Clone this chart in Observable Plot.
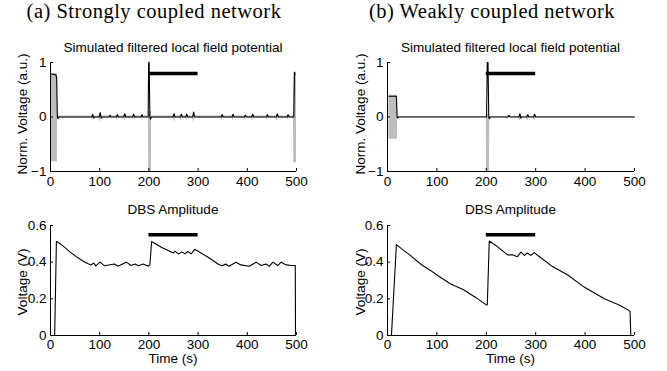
<!DOCTYPE html>
<html><head><meta charset="utf-8">
<script src="https://cdn.jsdelivr.net/npm/d3@7"></script>
<script src="https://cdn.jsdelivr.net/npm/@observablehq/plot@0.6"></script>
<style>
html,body{margin:0;padding:0;background:#fff;}
#fig{position:relative;width:667px;height:371px;overflow:hidden;background:#fff;}
#fig > svg{position:absolute;}
</style></head><body><div id="fig"></div>
<script>
// ---------- data ----------
const timeTicks = [0, 100, 200, 300, 400, 500];
const timeTickLabels = ["0", "100", "200", "300", "400", "500"];
const lfpTicks = [-1, 0, 1];
const lfpTickLabels = ["\u22121", "0", "1"];
const dbsTicks = [0, 0.2, 0.4, 0.6];
const dbsTickLabels = ["0", "0.2", "0.4", "0.6"];
const stimStart = 200, stimEnd = 300;
const stimMarkLfp = 0.8, stimMarkDbs = 0.55;

const panelTitles = ["(a) Strongly coupled network", "(b) Weakly coupled network"];
const lfpTitle = "Simulated filtered local field potential";
const dbsTitle = "DBS Amplitude";
const lfpYLabel = "Norm. Voltage (a.u.)";
const dbsYLabel = "Voltage (V)";
const timeLabel = "Time (s)";

// (a) strongly coupled: filtered LFP (black)
const strongLfpT = [2, 11, 12.5, 14, 15, 17, 84, 86, 88, 90, 99, 101, 103, 105, 119, 121, 123, 134, 136, 138, 149, 151, 153, 167, 169, 171, 184, 186, 188, 198.5, 199.5, 200.5, 202, 203, 205, 249, 251, 253, 264, 266, 268, 275, 277, 279, 289, 291, 293, 347, 349, 351, 369, 371, 373, 394, 396, 398, 409, 411, 413, 439, 441, 443, 459, 461, 463, 481, 483, 485, 494.5, 496, 497];
const strongLfpV = [0.79, 0.77, 0.72, 0.0, -0.03, 0, 0, 0.05, -0.02, 0, 0, 0.08, -0.02, 0, 0, 0.03, 0, 0, 0.04, 0, 0, 0.06, 0, 0, 0.05, 0, 0, 0.04, 0, 0, 1.0, 1.0, 0.0, -0.04, 0, 0, 0.06, 0, 0, 0.05, 0, 0, 0.05, 0, 0, 0.09, 0, 0, 0.04, 0, 0, 0.05, 0, 0, 0.03, 0, 0, 0.05, 0, 0, 0.04, 0, 0, 0.06, 0, 0, 0.04, 0, 0, 0.82, 0.78];
// (a) raw LFP envelope (gray)
const strongRawT = [2, 14, 14.5, 84, 86, 88, 99, 101, 103, 134, 136, 138, 149, 151, 153, 167, 169, 171, 184, 186, 188, 199, 199.5, 205, 205.5, 250, 252, 254, 264, 266, 268, 275, 277, 279, 289, 291, 293, 347, 349, 351, 369, 371, 373, 394, 396, 398, 409, 411, 413, 439, 441, 443, 459, 461, 463, 481, 483, 485, 494, 494.5, 500];
const strongRawLo = [-0.82, -0.82, -0.02, -0.02, -0.07, -0.02, -0.02, -0.1, -0.02, -0.02, -0.06, -0.02, -0.02, -0.08, -0.02, -0.02, -0.06, -0.02, -0.02, -0.06, -0.02, -0.02, -1, -1, -0.02, -0.02, -0.1, -0.02, -0.02, -0.08, -0.02, -0.02, -0.08, -0.02, -0.02, -0.12, -0.02, -0.02, -0.08, -0.02, -0.02, -0.07, -0.02, -0.02, -0.05, -0.02, -0.02, -0.08, -0.02, -0.02, -0.07, -0.02, -0.02, -0.08, -0.02, -0.02, -0.06, -0.02, -0.02, -0.84, -0.84];
const strongRawHi = [0.80, 0.80, 0.02, 0.02, 0.06, 0.02, 0.02, 0.08, 0.02, 0.02, 0.05, 0.02, 0.02, 0.07, 0.02, 0.02, 0.05, 0.02, 0.02, 0.05, 0.02, 0.02, 0.1, 0.1, 0.02, 0.02, 0.07, 0.02, 0.02, 0.05, 0.02, 0.02, 0.06, 0.02, 0.02, 0.1, 0.02, 0.02, 0.05, 0.02, 0.02, 0.05, 0.02, 0.02, 0.04, 0.02, 0.02, 0.05, 0.02, 0.02, 0.06, 0.02, 0.02, 0.06, 0.02, 0.02, 0.05, 0.02, 0.02, 0.82, 0.82];
// (a) DBS amplitude
const strongDbsT = [0, 8.5, 12, 20, 30, 40, 55, 70, 82, 88, 92, 101, 110, 130, 137, 154, 164, 172, 179, 188, 199, 202, 205.5, 226, 250, 253, 260, 267, 273, 279, 286, 293, 301, 322, 342, 349, 356, 363, 377, 387, 404, 418, 428, 438, 445, 452, 462, 469, 479, 490, 497.5, 498];
const strongDbsV = [0, 0, 0.513, 0.50, 0.478, 0.455, 0.425, 0.40, 0.385, 0.395, 0.38, 0.40, 0.38, 0.39, 0.378, 0.40, 0.382, 0.39, 0.38, 0.39, 0.378, 0.385, 0.513, 0.48, 0.45, 0.46, 0.445, 0.456, 0.445, 0.458, 0.445, 0.47, 0.458, 0.424, 0.387, 0.38, 0.39, 0.378, 0.40, 0.385, 0.378, 0.40, 0.382, 0.39, 0.378, 0.40, 0.382, 0.40, 0.385, 0.382, 0.382, 0];

// (b) weakly coupled: filtered LFP (black)
const weakLfpT = [3, 18, 19.5, 20.5, 22, 200.5, 202, 203.5, 205, 206, 208, 244, 246, 248, 266, 268, 270, 272, 282, 284, 286, 296, 298, 300, 500];
const weakLfpV = [0.38, 0.38, 0, -0.02, 0, 0, 1.0, 1.0, 0, -0.03, 0, 0, 0.03, 0, 0, 0.06, -0.02, 0, 0, 0.04, 0, 0, 0.05, 0, 0];
// (b) raw LFP envelope (gray)
const weakRawT = [3, 20, 20.5, 200, 200.5, 206.5, 207, 240, 243, 246, 256, 258, 260, 266, 268, 271, 280, 282, 284, 286, 295, 298, 301, 500];
const weakRawLo = [-0.41, -0.41, -0.01, -0.01, -1, -1, -0.01, -0.01, -0.04, -0.01, -0.01, -0.03, -0.01, -0.01, -0.08, -0.01, -0.01, -0.03, -0.08, -0.01, -0.01, -0.07, -0.01, -0.01];
const weakRawHi = [0.40, 0.40, 0.01, 0.01, 0.05, 0.05, 0.01, 0.01, 0.03, 0.01, 0.01, 0.02, 0.01, 0.01, 0.06, 0.01, 0.01, 0.03, 0.05, 0.01, 0.01, 0.05, 0.01, 0.01];
// (b) DBS amplitude
const weakDbsT = [0, 8, 18, 30, 45, 67, 75, 87, 100, 127, 154, 180, 200, 202, 206, 220, 243, 253, 263, 270, 277, 283, 290, 297, 305, 334, 365, 398, 439, 470, 491, 492.5];
const weakDbsV = [0, 0, 0.496, 0.47, 0.44, 0.39, 0.375, 0.355, 0.33, 0.282, 0.25, 0.205, 0.167, 0.168, 0.515, 0.49, 0.44, 0.44, 0.43, 0.455, 0.437, 0.45, 0.437, 0.452, 0.435, 0.376, 0.33, 0.264, 0.2, 0.165, 0.133, 0];

// ---------- helpers ----------
const zipLine = (T, V) => T.map((t, i) => ({t, v: V[i]}));
const zipBand = (T, L, H) => T.map((t, i) => ({t, lo: L[i], hi: H[i]}));
const GRAY = "#bdbdbd";
const FONT = "'Liberation Sans', Arial, sans-serif";
const FS = 13.5;
const fig = document.getElementById("fig");

function panel(cfg) {
  const marks = [];
  if (cfg.band) marks.push(Plot.areaY(cfg.band, {x: "t", y1: "lo", y2: "hi", fill: GRAY}));
  marks.push(Plot.line(cfg.line, {x: "t", y: "v", stroke: "black", strokeWidth: 1.1}));
  marks.push(Plot.ruleY([{y: cfg.bar, x1: stimStart, x2: stimEnd}], {y: "y", x1: "x1", x2: "x2", stroke: "black", strokeWidth: 3.5}));
  marks.push(Plot.ruleX([0], {stroke: "black"}));
  marks.push(Plot.ruleY([cfg.yTicks[0]], {stroke: "black"}));
  marks.push(Plot.axisX(timeTicks, {tickSize: -3, tickPadding: cfg.xPad, tickFormat: d => timeTickLabels[timeTicks.indexOf(d)], label: null}));
  marks.push(Plot.axisY(cfg.yTicks, {tickSize: -3, tickPadding: 7, tickFormat: d => cfg.yLabels[cfg.yTicks.indexOf(d)], label: null}));
  const p = Plot.plot({
    width: cfg.w, height: cfg.h,
    marginLeft: cfg.ml, marginRight: cfg.mr, marginTop: cfg.mt, marginBottom: cfg.mb,
    x: {domain: [0, 500]},
    y: {domain: [cfg.yTicks[0], cfg.yTicks[cfg.yTicks.length - 1]]},
    style: {fontFamily: FONT, fontSize: FS + "px", color: "black", background: "transparent", overflow: "visible"},
    marks
  });
  p.style.left = cfg.x + "px";
  p.style.top = cfg.y + "px";
  fig.append(p);
}

// top-left
panel({x: 0, y: 0, w: 333, h: 195, ml: 50, mr: 37, mt: 62, mb: 24, xPad: 8,
  band: zipBand(strongRawT, strongRawLo, strongRawHi), line: zipLine(strongLfpT, strongLfpV),
  bar: stimMarkLfp, yTicks: lfpTicks, yLabels: lfpTickLabels});
// top-right
panel({x: 333, y: 0, w: 334, h: 195, ml: 54, mr: 33, mt: 62, mb: 24, xPad: 8,
  band: zipBand(weakRawT, weakRawLo, weakRawHi), line: zipLine(weakLfpT, weakLfpV),
  bar: stimMarkLfp, yTicks: lfpTicks, yLabels: lfpTickLabels});
// bottom-left
panel({x: 0, y: 190, w: 333, h: 181, ml: 50, mr: 37, mt: 35, mb: 36, xPad: 6.5,
  line: zipLine(strongDbsT, strongDbsV),
  bar: stimMarkDbs, yTicks: dbsTicks, yLabels: dbsTickLabels});
// bottom-right
panel({x: 333, y: 190, w: 334, h: 181, ml: 54, mr: 33, mt: 35, mb: 36, xPad: 6.5,
  line: zipLine(weakDbsT, weakDbsV),
  bar: stimMarkDbs, yTicks: dbsTicks, yLabels: dbsTickLabels});

// ---------- text overlay ----------
const ov = d3.create("svg").attr("width", 667).attr("height", 371)
  .style("left", "0px").style("top", "0px").style("pointer-events", "none");
const cols = [{c: 173, title: 154, ylab: 22}, {c: 510.5, title: 492, ylab: 360}];
cols.forEach((col, k) => {
  ov.append("text").attr("x", col.title).attr("y", 18.3).attr("text-anchor", "middle")
    .attr("font-family", "'Liberation Serif', 'Times New Roman', serif").attr("font-size", 20.5)
    .attr("letter-spacing", "0.5px")
    .text(panelTitles[k]);
  ov.append("text").attr("x", col.c).attr("y", 51.5).attr("text-anchor", "middle")
    .attr("font-family", FONT).attr("font-size", FS).text(lfpTitle);
  ov.append("text").attr("x", col.c).attr("y", 214).attr("text-anchor", "middle")
    .attr("font-family", FONT).attr("font-size", FS).text(dbsTitle);
  ov.append("text").attr("x", col.c).attr("y", 362.5).attr("text-anchor", "middle")
    .attr("font-family", FONT).attr("font-size", FS).text(timeLabel);
  ov.append("text").attr("transform", `translate(${col.ylab + 5},114) rotate(-90)`).attr("text-anchor", "middle")
    .attr("font-family", FONT).attr("font-size", FS).text(lfpYLabel);
  ov.append("text").attr("transform", `translate(${col.ylab + 5},282) rotate(-90)`).attr("text-anchor", "middle")
    .attr("font-family", FONT).attr("font-size", FS).text(dbsYLabel);
});
fig.append(ov.node());
</script></body></html>
